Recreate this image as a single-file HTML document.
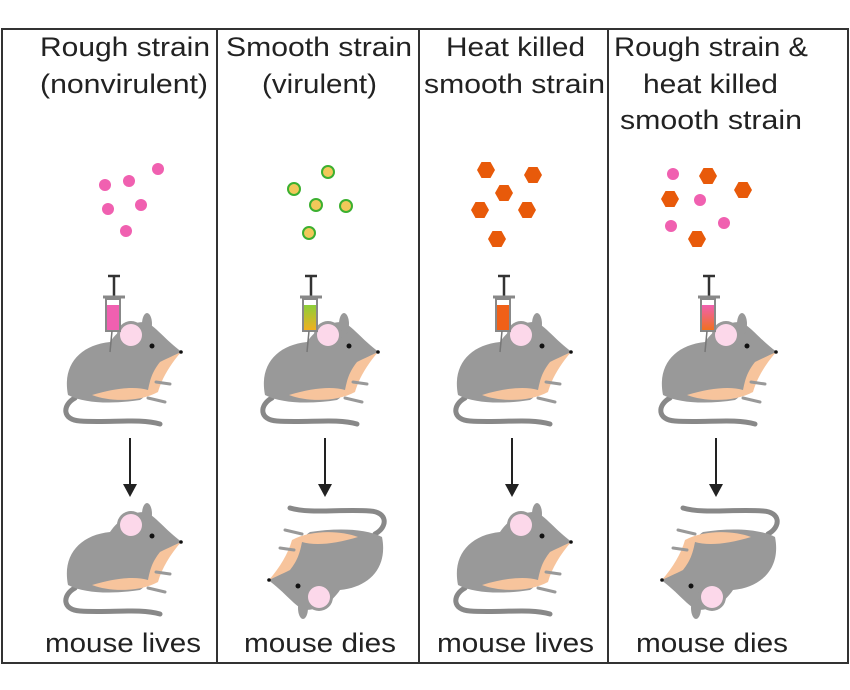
<!DOCTYPE html>
<html><head><meta charset="utf-8"><style>
html,body{margin:0;padding:0;background:#fff;}
svg{display:block;}
text{font-family:"Liberation Sans",sans-serif;font-size:27px;fill:#222;}
</style></head><body>
<svg width="850" height="690" viewBox="0 0 850 690" xmlns="http://www.w3.org/2000/svg">
<defs>
<linearGradient id="g2" x1="0" y1="0" x2="0" y2="1"><stop offset="0" stop-color="#8ccf3a"/><stop offset="1" stop-color="#f0b020"/></linearGradient>
<linearGradient id="g4" x1="0" y1="0" x2="0" y2="1"><stop offset="0" stop-color="#f060b0"/><stop offset="1" stop-color="#f07020"/></linearGradient>
<g id="mouse">
  <path d="M75,398 C62,405 62,420 80,421 C110,423 140,418 160,424" fill="none" stroke="#888" stroke-width="5" stroke-linecap="round"/>
  <path d="M68,395 C62,365 80,345 110,342 C118,330 130,322 145,322 C155,325 165,340 182,352 C172,360 162,364 156,372 C152,385 148,395 140,400 C115,404 85,404 68,395 Z" fill="#999"/>
  <path d="M92,395 C115,388 135,386 148,390 C150,380 152,372 160,362 C168,358 175,355 181,352 C170,365 162,378 158,392 C140,402 110,402 92,395 Z" fill="#f7c49c"/>
  <path d="M156,382 L170,384 M148,398 L165,402" stroke="#999" stroke-width="3" stroke-linecap="round"/>
  <ellipse cx="147" cy="324" rx="5" ry="11" fill="#999"/>
  <circle cx="131" cy="335" r="14" fill="#999"/>
  <circle cx="131" cy="335" r="11" fill="#fcd8ea"/>
  <circle cx="152" cy="346" r="2.5" fill="#111"/>
  <circle cx="181" cy="352" r="1.8" fill="#111"/>
</g>
<g id="syr">
  <path d="M108,276 L120,276 M114,276 L114,296" stroke="#333" stroke-width="2.5"/>
  <path d="M103,297 L125,297" stroke="#888" stroke-width="3"/>
  <rect x="106" y="299" width="14" height="32" fill="#fff" stroke="#888" stroke-width="2"/>
  <line x1="112" y1="331" x2="110" y2="352" stroke="#777" stroke-width="1.5"/>
</g>
<polygon id="hex" points="-9,0 -4.5,-8 4.5,-8 9,0 4.5,8 -4.5,8" fill="#e85a0a"/>
</defs>
<rect x="2" y="29" width="846" height="634" fill="none" stroke="#333" stroke-width="2"/>
<line x1="217" y1="29" x2="217" y2="663" stroke="#333" stroke-width="2"/>
<line x1="419" y1="29" x2="419" y2="663" stroke="#333" stroke-width="2"/>
<line x1="608" y1="29" x2="608" y2="663" stroke="#333" stroke-width="2"/>

<g>
<text x="40" y="56" textLength="170" lengthAdjust="spacingAndGlyphs">Rough strain</text>
<text x="40" y="93" textLength="168" lengthAdjust="spacingAndGlyphs">(nonvirulent)</text>
<text x="226" y="56" textLength="186" lengthAdjust="spacingAndGlyphs">Smooth strain</text>
<text x="262" y="93" textLength="115" lengthAdjust="spacingAndGlyphs">(virulent)</text>
<text x="446" y="56" textLength="139" lengthAdjust="spacingAndGlyphs">Heat killed</text>
<text x="424" y="93" textLength="181" lengthAdjust="spacingAndGlyphs">smooth strain</text>
<text x="614" y="56" textLength="194" lengthAdjust="spacingAndGlyphs">Rough strain &amp;</text>
<text x="643" y="93" textLength="135" lengthAdjust="spacingAndGlyphs">heat killed</text>
<text x="620" y="129" textLength="182" lengthAdjust="spacingAndGlyphs">smooth strain</text>

<text x="45" y="652" textLength="156" lengthAdjust="spacingAndGlyphs">mouse lives</text>
<text x="244" y="652" textLength="152" lengthAdjust="spacingAndGlyphs">mouse dies</text>
<text x="437" y="652" textLength="157" lengthAdjust="spacingAndGlyphs">mouse lives</text>
<text x="636" y="652" textLength="152" lengthAdjust="spacingAndGlyphs">mouse dies</text>
</g>

<g fill="#f060b0">
<circle cx="105" cy="185" r="6"/><circle cx="129" cy="181" r="6"/><circle cx="158" cy="169" r="6"/>
<circle cx="108" cy="209" r="6"/><circle cx="141" cy="205" r="6"/><circle cx="126" cy="231" r="6"/>
<circle cx="673" cy="174" r="6"/><circle cx="700" cy="200" r="6"/><circle cx="671" cy="226" r="6"/><circle cx="724" cy="223" r="6"/>
</g>
<g fill="#f2c85a" stroke="#3cb030" stroke-width="2">
<circle cx="294" cy="189" r="6"/><circle cx="328" cy="172" r="6"/><circle cx="316" cy="205" r="6"/><circle cx="346" cy="206" r="6"/><circle cx="309" cy="233" r="6"/>
</g>
<use href="#hex" x="486" y="170"/><use href="#hex" x="533" y="175"/><use href="#hex" x="504" y="193"/>
<use href="#hex" x="480" y="210"/><use href="#hex" x="527" y="210"/><use href="#hex" x="497" y="239"/>
<use href="#hex" x="708" y="176"/><use href="#hex" x="743" y="190"/><use href="#hex" x="670" y="199"/><use href="#hex" x="697" y="239"/>

<g><use href="#mouse"/><use href="#syr"/><rect x="107" y="305" width="12" height="25" fill="#f060b0"/></g>
<g transform="translate(197,0)"><use href="#mouse"/><use href="#syr"/><rect x="107" y="305" width="12" height="25" fill="url(#g2)"/></g>
<g transform="translate(390,0)"><use href="#mouse"/><use href="#syr"/><rect x="107" y="305" width="12" height="25" fill="#f06018"/></g>
<g transform="translate(595,0)"><use href="#mouse"/><use href="#syr"/><rect x="107" y="305" width="12" height="25" fill="url(#g4)"/></g>

<g stroke="#222" stroke-width="2">
<line x1="130" y1="438" x2="130" y2="486"/><line x1="325" y1="438" x2="325" y2="486"/>
<line x1="512" y1="438" x2="512" y2="486"/><line x1="716" y1="438" x2="716" y2="486"/>
</g>
<g fill="#222">
<polygon points="123,484 137,484 130,497"/><polygon points="318,484 332,484 325,497"/>
<polygon points="505,484 519,484 512,497"/><polygon points="709,484 723,484 716,497"/>
</g>

<use href="#mouse" transform="translate(0,190)"/>
<use href="#mouse" transform="translate(390,190)"/>
<use href="#mouse" transform="translate(450,932) rotate(180)"/>
<use href="#mouse" transform="translate(843,932) rotate(180)"/>
</svg>
</body></html>
